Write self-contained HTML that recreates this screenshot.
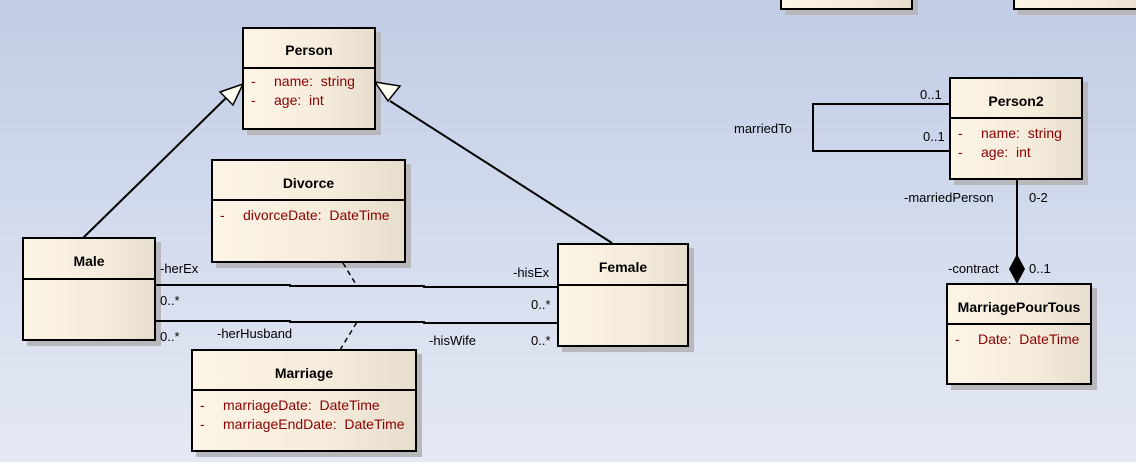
<!DOCTYPE html>
<html><head><meta charset="utf-8"><style>
body{margin:0;width:1136px;height:462px;overflow:hidden;background:linear-gradient(180deg,#c1cce5 0%,#d3dbed 50%,#e5e9f4 100%);font-family:"Liberation Sans",sans-serif;position:relative}
.box{position:absolute;border:2px solid #000;box-sizing:border-box;background:linear-gradient(90deg,#fcf4e5 0%,#f6ecdc 60%,#e6ddcc 100%);box-shadow:5px 5px 0 #b8b8bc}
.hd{border-bottom:2px solid #000;box-sizing:border-box;font-weight:bold;font-size:14px;text-align:center;color:#000}
.at{font-size:14px;color:#8b0000;position:relative;height:19px;line-height:19px}
.at span{position:absolute}
.lb{position:absolute;font-size:13px;color:#000;white-space:nowrap}
svg{position:absolute;left:0;top:0;z-index:5}
</style></head><body>
<div class="box" style="left:780px;top:-20px;width:133px;height:30px"></div>
<div class="box" style="left:1013px;top:-20px;width:140px;height:30px"></div>

<svg width="1136" height="462">
<g stroke="#000" stroke-width="2" fill="none">
<line x1="83" y1="238" x2="226" y2="98"/>
<line x1="612" y1="243" x2="390" y2="101"/>
<polyline points="156,285 290,285 290,286 424,286 424,287 558,287"/>
<polyline points="156,321 290,321 290,322 424,322 424,323 558,323"/>
<polyline points="950,104 813,104 813,151 950,151"/>
<line x1="1017" y1="179" x2="1017" y2="258"/>
</g>
<g stroke="#000" stroke-width="1.5" fill="none" stroke-dasharray="5,4">
<line x1="343" y1="263" x2="357" y2="286"/>
<line x1="340" y1="350" x2="357" y2="322"/>
</g>
<polygon points="243,84 220,92 233,105" fill="#fffff4" stroke="#000" stroke-width="1.5"/>
<polygon points="375,82 388,101 400,86" fill="#fffff4" stroke="#000" stroke-width="1.5"/>
<polygon points="1017,254 1025,269 1017,284 1009,269" fill="#000"/>
</svg>

<div class="box" style="left:242px;top:27px;width:134px;height:103px">
<div class="hd" style="height:40px;line-height:42px">Person</div>
<div style="padding-top:3px">
<div class="at"><span style="left:7px">-</span><span style="left:30px">name:&nbsp; string</span></div>
<div class="at"><span style="left:7px">-</span><span style="left:30px">age:&nbsp; int</span></div></div></div>

<div class="box" style="left:211px;top:159px;width:195px;height:104px">
<div class="hd" style="height:40px;line-height:44px">Divorce</div>
<div style="padding-top:5px">
<div class="at"><span style="left:7px">-</span><span style="left:30px">divorceDate:&nbsp; DateTime</span></div></div></div>

<div class="box" style="left:22px;top:237px;width:134px;height:104px">
<div class="hd" style="height:41px;line-height:44px">Male</div></div>

<div class="box" style="left:557px;top:243px;width:132px;height:104px">
<div class="hd" style="height:41px;line-height:44px">Female</div></div>

<div class="box" style="left:191px;top:349px;width:226px;height:103px">
<div class="hd" style="height:40px;line-height:44px">Marriage</div>
<div style="padding-top:5px">
<div class="at"><span style="left:7px">-</span><span style="left:30px">marriageDate:&nbsp; DateTime</span></div>
<div class="at"><span style="left:7px">-</span><span style="left:30px">marriageEndDate:&nbsp; DateTime</span></div></div></div>

<div class="box" style="left:949px;top:77px;width:134px;height:103px">
<div class="hd" style="height:40px;line-height:44px">Person2</div>
<div style="padding-top:5px">
<div class="at"><span style="left:7px">-</span><span style="left:30px">name:&nbsp; string</span></div>
<div class="at"><span style="left:7px">-</span><span style="left:30px">age:&nbsp; int</span></div></div></div>

<div class="box" style="left:946px;top:283px;width:146px;height:102px">
<div class="hd" style="height:40px;line-height:44px">MarriagePourTous</div>
<div style="padding-top:5px">
<div class="at"><span style="left:7px">-</span><span style="left:30px">Date:&nbsp; DateTime</span></div></div></div>

<div class="lb" style="left:160px;top:261px">-herEx</div>
<div class="lb" style="left:160px;top:293px">0..*</div>
<div class="lb" style="left:160px;top:329px">0..*</div>
<div class="lb" style="left:217px;top:326px">-herHusband</div>
<div class="lb" style="left:513px;top:265px">-hisEx</div>
<div class="lb" style="left:531px;top:297px">0..*</div>
<div class="lb" style="left:429px;top:333px">-hisWife</div>
<div class="lb" style="left:531px;top:333px">0..*</div>
<div class="lb" style="left:920px;top:87px">0..1</div>
<div class="lb" style="left:923px;top:129px">0..1</div>
<div class="lb" style="left:734px;top:121px">marriedTo</div>
<div class="lb" style="left:904px;top:190px">-marriedPerson</div>
<div class="lb" style="left:1029px;top:190px">0-2</div>
<div class="lb" style="left:948px;top:261px">-contract</div>
<div class="lb" style="left:1029px;top:261px">0..1</div>
</body></html>
